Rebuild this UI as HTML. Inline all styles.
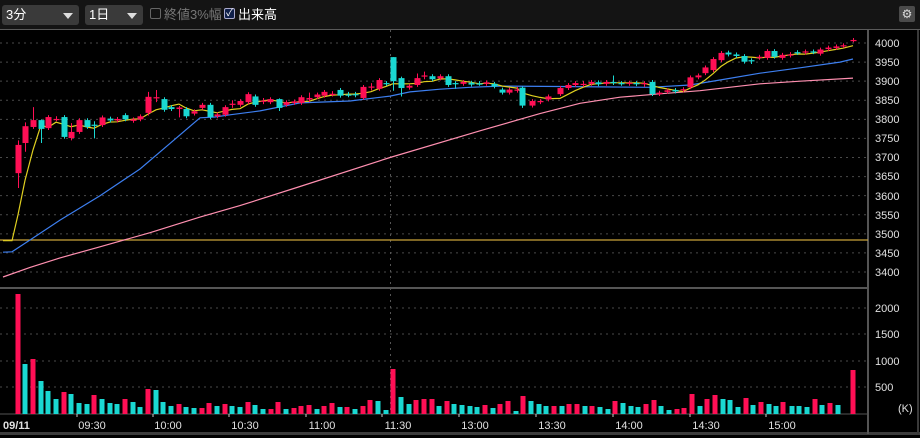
<!DOCTYPE html>
<html><head><meta charset="utf-8"><style>
html,body{margin:0;padding:0;background:#000;width:920px;height:438px;overflow:hidden;font-family:"Liberation Sans","Noto Sans CJK JP",sans-serif}
#tb{position:absolute;left:0;top:0;width:920px;height:29px;background:#141414;border-bottom:1px solid #5a5a5a}
.dd{position:absolute;top:5px;height:20px;background:#3a3a3a;border-radius:3px;color:#fff;font-size:13px;line-height:20px;padding-left:4px;box-sizing:border-box}
.dd .ar{position:absolute;right:6px;top:8px;width:0;height:0;border-left:5px solid transparent;border-right:5px solid transparent;border-top:6px solid #ddd}
.cb{position:absolute;top:8px;width:11px;height:11px;box-sizing:border-box;border-radius:2px}
.lb{position:absolute;top:6px;font-size:13px;line-height:17px}
svg{position:absolute;left:0;top:0}
</style></head><body>
<div id="tb">
 <div class="dd" style="left:2px;width:77px">3分<span class="ar"></span></div>
 <div class="dd" style="left:85px;width:58px">1日<span class="ar"></span></div>
 <div class="cb" style="left:150px;border:1px solid #666"></div>
 <div class="lb" style="left:164px;color:#777">終値3%幅</div>
 <div class="cb" style="left:224px;border:1px solid #aac;background:#10204a;color:#fff;font-size:10px;line-height:9px;text-align:center">✓</div>
 <div class="lb" style="left:238px;color:#fff">出来高</div>
 <div style="position:absolute;left:899px;top:6px;width:16px;height:16px;background:#4a4a4a;border-radius:2px;color:#ddd;font-size:12px;line-height:16px;text-align:center">⚙</div>
</div>
<svg id="s" width="920" height="438" viewBox="0 0 920 438" style="top:0">
<g font-family="Liberation Sans, sans-serif" font-size="11" fill="#e0e0e0">
<text x="875" y="47">4000</text><text x="875" y="66">3950</text><text x="875" y="85">3900</text><text x="875" y="104">3850</text><text x="875" y="123">3800</text><text x="875" y="142">3750</text><text x="875" y="161">3700</text><text x="875" y="180">3650</text><text x="875" y="200">3600</text><text x="875" y="219">3550</text><text x="875" y="238">3500</text><text x="875" y="257">3450</text><text x="875" y="276">3400</text>
<text x="875" y="312">2000</text><text x="875" y="338">1500</text><text x="875" y="365">1000</text><text x="875" y="391">500</text><text x="898" y="412">(K)</text>
<text x="3" y="429" font-weight="bold">09/11</text>
<text x="92" y="429" text-anchor="middle">09:30</text><text x="168" y="429" text-anchor="middle">10:00</text><text x="245" y="429" text-anchor="middle">10:30</text><text x="322" y="429" text-anchor="middle">11:00</text><text x="398" y="429" text-anchor="middle">11:30</text><text x="475" y="429" text-anchor="middle">13:00</text><text x="552" y="429" text-anchor="middle">13:30</text><text x="629" y="429" text-anchor="middle">14:00</text><text x="706" y="429" text-anchor="middle">14:30</text><text x="782" y="429" text-anchor="middle">15:00</text>
</g>
</svg>
<script>
var s=document.getElementById('s'),NS='http://www.w3.org/2000/svg';
function add(t,a){var e=document.createElementNS(NS,t);for(var k in a)e.setAttribute(k,a[k]);s.appendChild(e);return e;}
function Y(p){return 43+(4000-p)*0.3817;}
var RED='#ff0f55',CY='#1ad8d2';
for(var p=3400;p<=4000;p+=50)add('line',{x1:0,x2:868,y1:Y(p),y2:Y(p),stroke:'#4a4a4a','stroke-dasharray':'2 4'});
[308,334,361,387].forEach(function(y){add('line',{x1:0,x2:868,y1:y,y2:y,stroke:'#4a4a4a','stroke-dasharray':'2 4'});});
add('line',{x1:390.5,x2:390.5,y1:30,y2:414,stroke:'#555','stroke-dasharray':'2 4'});
add('rect',{x:0,y:287,width:868,height:2,fill:'#555'});
add('line',{x1:0,x2:868,y1:414,y2:414,stroke:'#555'});
add('rect',{x:0,y:432,width:920,height:3,fill:'#3c3c3c'});
add('rect',{x:867,y:30,width:2,height:404,fill:'#555'});
add('rect',{x:917,y:30,width:2,height:404,fill:'#3a3a3a'});
[77,153,229,306,382,459,536,613,690,766].forEach(function(x){add('line',{x1:x,x2:x,y1:414,y2:417,stroke:'#ccc'});});
add('line',{x1:0,x2:868,y1:240,y2:240,stroke:'#c9a23a','stroke-width':1.2});
var V=[[18,294,1],[25,364,0],[33,359,1],[41,381,0],[48,391,0],[56,399,0],[64,392,1],[71,394,0],[79,403,0],[87,404,0],[94,395,1],[102,399,0],[110,403,0],[117,404,0],[125,399,1],[133,402,0],[140,407,0],[148,389,1],[156,390,0],[163,402,0],[171,406,0],[179,404,1],[186,407,0],[194,408,0],[202,408,1],[209,403,1],[217,406,0],[225,404,1],[232,406,0],[240,407,0],[248,402,1],[255,405,0],[263,409,0],[271,409,1],[278,402,1],[286,409,0],[294,408,1],[301,406,1],[309,405,1],[317,409,0],[324,406,1],[332,403,1],[340,407,0],[347,407,1],[355,409,0],[363,406,1],[370,400,1],[378,401,0],[386,410,0],[393,369,1],[401,397,0],[409,404,0],[416,400,1],[424,399,1],[432,399,1],[439,406,0],[447,401,1],[454,404,0],[462,405,0],[470,406,0],[477,407,0],[485,405,1],[493,408,0],[500,404,1],[508,401,1],[516,411,0],[523,396,1],[531,401,0],[539,404,0],[546,406,0],[554,406,1],[562,406,0],[569,404,1],[577,404,1],[585,406,0],[592,406,1],[600,407,0],[608,409,0],[615,401,1],[623,403,0],[631,406,0],[638,407,0],[646,404,1],[654,400,1],[661,406,0],[669,410,0],[677,409,1],[684,408,1],[692,394,1],[700,406,0],[707,399,1],[715,395,1],[723,399,0],[730,400,0],[738,407,0],[746,398,1],[753,405,0],[761,402,1],[769,404,0],[776,406,0],[783,402,1],[792,406,0],[799,406,0],[807,407,0],[815,399,1],[822,405,0],[830,403,1],[838,405,0],[853,370,1]];
V.forEach(function(v){add('rect',{x:v[0]-2.5,y:v[1],width:5,height:414-v[1],fill:v[2]?RED:CY});});
function pl(pts,c){add('polyline',{points:pts.map(function(q){return q[0]+','+Y(q[1]).toFixed(1)}).join(' '),fill:'none',stroke:c,'stroke-width':1.2});}
pl([[3,3387],[30,3412],[60,3437],[100,3466],[150,3503],[200,3544],[240,3574],[300,3624],[390,3700],[480,3770],[540,3815],[580,3842],[620,3858],[660,3867],[700,3875],[760,3893],[800,3900],[853,3908]],'#ff8fb0');
pl([[3,3452],[12,3453],[30,3484],[60,3536],[100,3600],[140,3670],[170,3737],[200,3804],[215,3806],[230,3812],[260,3822],[300,3843],[350,3848],[390,3861],[410,3872],[440,3879],[470,3884],[500,3887],[560,3886],[600,3885],[650,3884],[690,3890],[720,3903],[760,3921],[800,3935],[840,3950],[853,3958]],'#3d7ff0');
var C=[[18,3659,3733,3745,3620],[25,3738,3782,3792,3715],[33,3780,3798,3832,3775],[41,3798,3775,3800,3738],[48,3777,3806],[56,3800,3801,3808,3795],[64,3806,3754],[71,3751,3767,3790,3745],[79,3767,3798],[87,3798,3780],[94,3786,3785,3795,3750],[102,3785,3805],[110,3802,3797],[117,3797,3801],[125,3811,3800],[133,3796,3800],[140,3800,3808],[148,3817,3859,3872,3810],[156,3857,3858,3877,3845],[164,3853,3825],[171,3832,3827],[179,3827,3831,3835,3805],[186,3827,3808],[194,3815,3821],[202,3830,3838],[210,3838,3806],[217,3808,3813],[225,3812,3832],[232,3840,3841,3850,3830],[240,3838,3848],[248,3845,3866],[255,3860,3838],[263,3848,3849,3856,3840],[270,3845,3853],[279,3853,3830,3855,3822],[286,3838,3845],[294,3843,3847],[301,3843,3858],[309,3852,3856,3870,3845],[317,3858,3865],[324,3862,3872],[332,3866,3867,3874,3860],[340,3877,3862],[348,3865,3864,3872,3858],[355,3866,3865,3872,3858],[363,3856,3885],[371,3885,3886,3895,3876],[379,3880,3903],[386,3895,3893],[393,3963,3900,3963,3875],[401,3908,3882,3912,3860],[409,3883,3888],[417,3890,3908,3920,3885],[424,3914,3915,3925,3905],[432,3913,3905],[440,3907,3913],[448,3913,3890],[455,3895,3894,3900,3880],[463,3893,3898],[471,3896,3891],[479,3894,3893,3900,3888],[486,3893,3897],[494,3893,3886],[502,3878,3870],[509,3870,3878],[517,3877,3878,3885,3870],[522,3883,3836,3886,3830],[532,3836,3848],[540,3845,3848],[548,3852,3860],[560,3866,3882],[568,3882,3890],[575,3890,3895],[583,3892,3893,3900,3885],[591,3893,3898],[598,3897,3892],[606,3893,3898],[613,3898,3897,3915,3890],[621,3895,3894,3900,3888],[629,3893,3896],[636,3895,3892],[644,3894,3895,3900,3885],[652,3898,3866],[659,3866,3870],[667,3872,3876],[675,3877,3873],[683,3876,3879],[690,3884,3910],[698,3910,3915],[705,3921,3936],[713,3929,3958],[721,3955,3974],[728,3975,3970],[736,3970,3966],[744,3966,3951],[751,3955,3954,3960,3945],[759,3961,3964],[767,3961,3979],[774,3979,3964],[782,3961,3969],[790,3969,3970,3976,3962],[797,3976,3974],[805,3975,3978],[813,3978,3976],[820,3972,3983],[828,3984,3988],[836,3987,3991],[843,3992,3994],[853,4007,4008]];
var ym=[[3,3482],[12,3482],[18,3550],[25,3640],[33,3720],[41,3785]];
for(var i=4;i<C.length;i++){var a=0;for(var j=i-4;j<=i;j++)a+=C[j][2];ym.push([C[i][0],a/5]);}
pl(ym,'#e0d020');
C.forEach(function(c){var o=c[1],cl=c[2],hi=c[3]||Math.max(o,cl)+5,lo=c[4]||Math.min(o,cl)-5;var col=cl>=o?RED:CY;
 add('line',{x1:c[0]+0.5,x2:c[0]+0.5,y1:Y(hi),y2:Y(lo),stroke:col});
 var t=Y(Math.max(o,cl)),b=Y(Math.min(o,cl));add('rect',{x:c[0]-2.5,y:t,width:6,height:Math.max(1.2,b-t),fill:col});});
</script>
</body></html>
